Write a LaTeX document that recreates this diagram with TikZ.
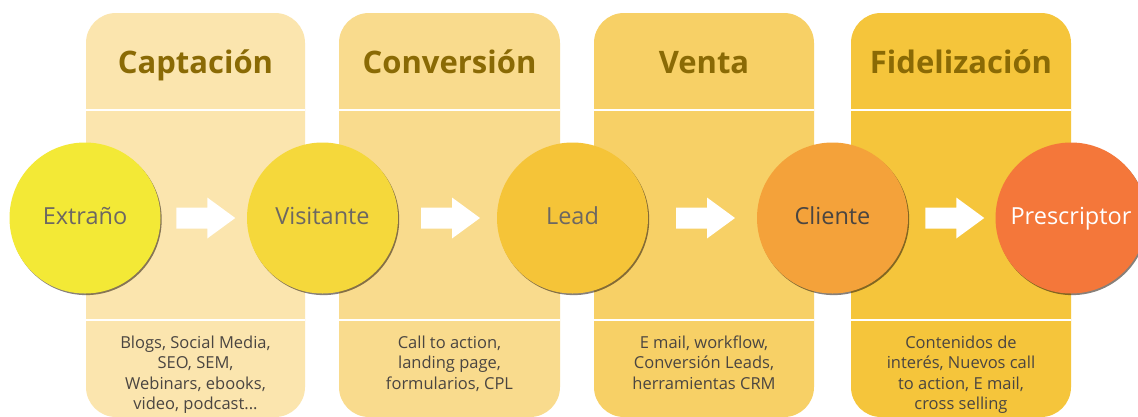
\documentclass[tikz,border=0pt]{standalone}
\usepackage{fontspec}
\setmainfont{Open Sans}
\usetikzlibrary{shadows,calc}
\definecolor{boxA}{HTML}{FBE5AE}
\definecolor{boxB}{HTML}{F9DB8D}
\definecolor{boxC}{HTML}{F7D066}
\definecolor{boxD}{HTML}{F5C53B}
\definecolor{cirA}{HTML}{F3E936}
\definecolor{cirB}{HTML}{F5D83B}
\definecolor{cirC}{HTML}{F5C438}
\definecolor{cirD}{HTML}{F4A23A}
\definecolor{cirE}{HTML}{F4773A}
\definecolor{titlecol}{HTML}{8A6A05}
\definecolor{graytxt}{HTML}{6C6762}
\definecolor{darktxt}{HTML}{4A4541}
\tikzset{
  stagebox/.style={fill=#1, rounded corners=30pt},
  sep/.style={draw=white, line width=2.5pt},
  titletxt/.style={font=\fontsize{31}{34}\selectfont\bfseries, text=titlecol, anchor=base},
  bodytxt/.style={font=\fontsize{16.5}{20.5}\selectfont, text=darktxt, align=center, anchor=north, inner sep=0pt},
  phase/.style={circle, fill=#1, minimum size=151pt, inner sep=0pt,
    font=\fontsize{23.5}{26}\selectfont, text height=17pt, text depth=5pt,
    drop shadow={shadow xshift=1.2pt, shadow yshift=-1.6pt, opacity=0.55, fill=black!80!brown}},
  blockarrow/.style={fill=white}
}
\begin{document}
\begin{tikzpicture}[x=1pt,y=-1pt]
\clip (0,0) rectangle (1138,416);
\fill[white] (0,0) rectangle (1138,416);
% stage boxes
\fill[stagebox=boxA] (86,13) rectangle (305,417);
\fill[stagebox=boxB] (339,13) rectangle (560,417);
\fill[stagebox=boxC] (594,13) rectangle (814,417);
\fill[stagebox=boxD] (851,13) rectangle (1071,417);
% separators
\foreach \l/\r in {86/305,339/560,594/814,851/1071}{
  \draw[sep] (\l,110) -- (\r,110);
  \draw[sep] (\l,320) -- (\r,320);
}
% titles
\node[titletxt] (t1) at (195.5,73) {Captación};
\node[titletxt] (t2) at (449.5,73) {Conversión};
\node[titletxt] (t3) at (704,73) {Venta};
\node[titletxt] (t4) at (961,73) {Fidelización};
% circles
\node[phase=cirA, text=graytxt] (c1) at (85,218) {Extraño};
\node[phase=cirB, text=graytxt] (c2) at (322.5,218) {Visitante};
\node[phase=cirC, text=graytxt] (c3) at (572.5,218) {Lead};
\node[phase=cirD, text=darktxt] (c4) at (832.5,218) {Cliente};
\node[phase=cirE, text=white] (c5) at (1071,218) {Prescriptor};
% arrows between circles
\coordinate (a1) at ($(c1)!0.5!(c2)+(2,0)$);
\coordinate (a2) at ($(c2)!0.5!(c3)+(3,0)$);
\coordinate (a3) at ($(c3)!0.5!(c4)+(3,0)$);
\coordinate (a4) at ($(c4)!0.5!(c5)+(3,0)$);
\foreach \a in {a1,a2,a3,a4}{
  \fill[blockarrow, shift={(\a)}] (-29.5,-10.5) -- (1.5,-10.5) -- (1.5,-20.5) -- (29.5,0)
    -- (1.5,20.5) -- (1.5,10.5) -- (-29.5,10.5) -- cycle;
}
% body texts
\node[bodytxt] (b1) at (195.5,335.5) {Blogs, Social Media,\\SEO, SEM,\\Webinars, ebooks,\\video, podcast...};
\node[bodytxt] (b2) at (449.5,335.5) {Call to action,\\landing page,\\formularios, CPL};
\node[bodytxt] (b3) at (704,335.5) {E mail, workflow,\\Conversión Leads,\\herramientas CRM};
\node[bodytxt] (b4) at (961,335.5) {Contenidos de\\interés, Nuevos call\\to action, E mail,\\cross selling};
\end{tikzpicture}
\end{document}
